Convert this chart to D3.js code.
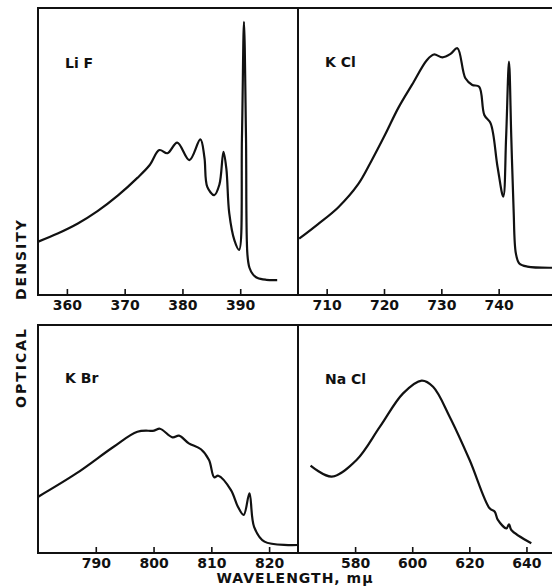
<!DOCTYPE html>
<html lang="en">
<head>
  <meta charset="UTF-8">
  <title>Optical density spectra</title>
  <script src="https://d3js.org/d3.v7.min.js"></script>
  <style>
    body { margin: 0; padding: 0; background: #fff; overflow: hidden; }
    svg { display: block; }
    text { font-family: "DejaVu Sans", sans-serif; font-weight: bold; fill: #111; }
    .tick line { stroke: #111; stroke-width: 1.6; }
    .tick text { font-size: 14px; }
  </style>
</head>
<body>
  <div id="chart"></div>

  <script>
    // LiF
    const lifWave    = [355.05, 358.4, 361.9, 365.3, 368.8, 372.2, 374.3, 376.0, 377.4, 379.1, 381.2, 383.1, 383.8, 384.3, 385.5, 386.4, 387.1, 387.6, 388.1, 389, 389.8, 390.3, 390.65, 391.0, 391.25, 391.6, 392.2, 393, 394.5, 396.4];
    const lifDensity = [18.6, 21.4, 24.9, 29.2, 34.6, 40.8, 45.2, 50.5, 49.4, 53.1, 47.0, 54.2, 48.0, 37.7, 34.8, 38.5, 49.9, 44.0, 28.5, 19.0, 15.7, 55.0, 95.2, 55.0, 14.0, 9.5, 7.2, 5.9, 5.3, 5.2];
    const lifTicks   = [360, 370, 380, 390];

    // KCl
    const kclWave    = [705.2, 708.5, 712.0, 715.5, 717.8, 720.2, 722.5, 724.9, 727.5, 728.7, 730.2, 731.6, 732.8, 734.2, 735.4, 736.6, 737.5, 738.6, 739.8, 740.8, 741.3, 741.8, 742.2, 742.6, 743.0, 743.6, 745.0, 749.5];
    const kclDensity = [19.6, 24.7, 30.5, 38.6, 46.7, 55.9, 65.2, 73.3, 81.9, 83.8, 82.8, 84.0, 86.0, 75.5, 73.2, 72.6, 62.7, 59.8, 44.7, 34.3, 55.0, 81.3, 55.0, 30.0, 14.5, 11.0, 9.9, 9.5];
    const kclTicks   = [710, 720, 730, 740];

    // KBr
    const kbrWave    = [780.05, 786.7, 793.1, 797.2, 800.1, 801.1, 803.3, 804.4, 806.1, 808.2, 809.6, 810.5, 811.2, 813.4, 814.6, 815.6, 816.6, 817.4, 819.2, 825];
    const kbrDensity = [24.7, 35.0, 46.6, 53.2, 53.7, 54.5, 50.7, 51.5, 48.1, 45.5, 40.8, 33.2, 33.9, 27.6, 20.3, 16.7, 26.2, 11.5, 5.0, 3.5];
    const kbrTicks   = [790, 800, 810, 820];

    // NaCl
    const naclWave    = [564.4, 571.8, 580.5, 588.7, 596.8, 603.3, 607.3, 613.1, 620.1, 627.1, 628.9, 630.0, 633.0, 633.9, 634.7, 641.7];
    const naclDensity = [38.3, 33.5, 40.8, 55.4, 70.0, 75.6, 72.9, 59.8, 40.8, 19.6, 18.1, 14.5, 10.8, 12.6, 10.1, 4.3];
    const naclTicks   = [580, 600, 620, 640];

    const width = 552, height = 588;

    const svg = d3.select('#chart').append('svg')
      .attr('width', width)
      .attr('height', height);

    const panels = [
      { name: 'Li F',  wave: lifWave,  dens: lifDensity,  ticks: lifTicks,  domain: [355, 400], x0: 38,  x1: 298, y0: 8,   y1: 295, lx: 65,  ly: 68 },
      { name: 'K Cl',  wave: kclWave,  dens: kclDensity,  ticks: kclTicks,  domain: [705, 750], x0: 298, x1: 556, y0: 8,   y1: 295, lx: 325, ly: 67 },
      { name: 'K Br',  wave: kbrWave,  dens: kbrDensity,  ticks: kbrTicks,  domain: [780, 825], x0: 38,  x1: 298, y0: 325, y1: 553, lx: 65,  ly: 383 },
      { name: 'Na Cl', wave: naclWave, dens: naclDensity, ticks: naclTicks, domain: [560, 650], x0: 298, x1: 555, y0: 325, y1: 553, lx: 325, ly: 384 }
    ];

    panels.forEach(p => {
      const x = d3.scaleLinear().domain(p.domain).range([p.x0, p.x1]);
      const y = d3.scaleLinear().domain([0, 100]).range([p.y1, p.y0]);
      const g = svg.append('g');

      // inward ticks + labels below the frame
      g.append('g')
        .attr('transform', `translate(0,${p.y1})`)
        .call(d3.axisBottom(x).tickValues(p.ticks).tickSize(-6).tickPadding(5).tickFormat(d3.format('d')))
        .call(a => a.select('.domain').remove());

      g.append('rect')
        .attr('x', p.x0).attr('y', p.y0)
        .attr('width', p.x1 - p.x0).attr('height', p.y1 - p.y0)
        .attr('fill', 'none')
        .attr('stroke', '#111')
        .attr('stroke-width', 2);

      const pts = p.wave.map((w, i) => [w, p.dens[i]]);
      g.append('path')
        .datum(pts)
        .attr('fill', 'none')
        .attr('stroke', '#111')
        .attr('stroke-width', 2.2)
        .attr('stroke-linejoin', 'round')
        .attr('d', d3.line().x(d => x(d[0])).y(d => y(d[1])).curve(d3.curveCatmullRom.alpha(0.5)));

      g.append('text')
        .attr('x', p.lx).attr('y', p.ly)
        .style('font-size', '14px')
        .text(p.name);
    });

    // axis titles
    svg.append('text')
      .attr('transform', 'translate(26,408) rotate(-90)')
      .style('font-size', '14px')
      .style('letter-spacing', '2px')
      .text('OPTICAL');
    svg.append('text')
      .attr('transform', 'translate(26,300) rotate(-90)')
      .style('font-size', '14px')
      .style('letter-spacing', '2px')
      .text('DENSITY');

    svg.append('text')
      .attr('x', 295).attr('y', 583)
      .attr('text-anchor', 'middle')
      .style('font-size', '14px')
      .style('letter-spacing', '1px')
      .text('WAVELENGTH,  m\u03BC');
  </script>
</body>
</html>
